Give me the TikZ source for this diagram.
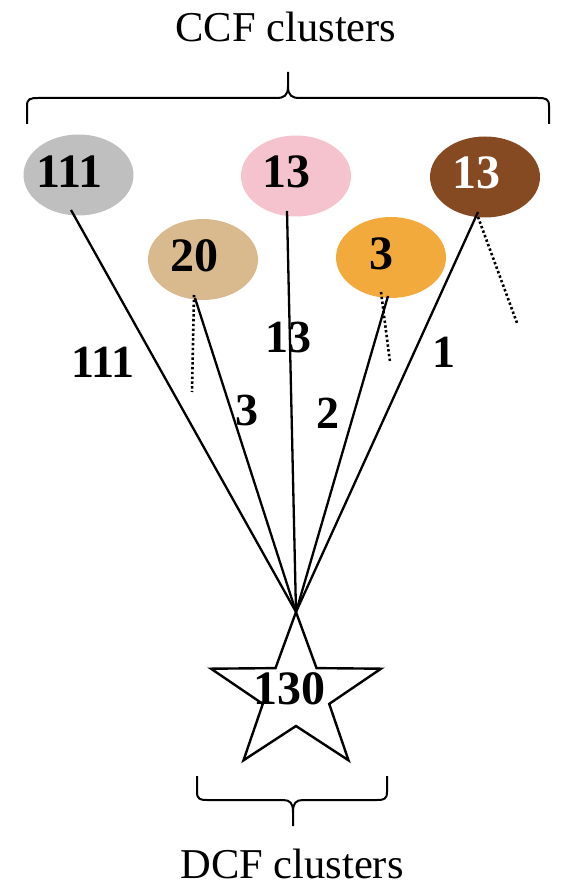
\documentclass[tikz,border=0pt]{standalone}
\usepackage{fontspec}
\setmainfont{Liberation Serif}
\definecolor{cgray}{HTML}{BFBFBF}
\definecolor{cpink}{HTML}{F5C3CD}
\definecolor{cbrown}{HTML}{854A22}
\definecolor{ctan}{HTML}{D9BA8E}
\definecolor{corange}{HTML}{F3AA3C}
\tikzset{
  blob/.style={ellipse, minimum width=110pt, minimum height=81pt, inner sep=0pt},
  num/.style={inner sep=0pt, font=\fontsize{48}{50}\selectfont\bfseries},
  edgelab/.style={inner sep=0pt, font=\fontsize{46}{48}\selectfont\bfseries},
  title/.style={inner sep=0pt, font=\fontsize{42.5}{44}\selectfont},
  link/.style={line width=2.3pt},
  dotline/.style={line width=2.6pt, dash pattern=on 2.4pt off 2.4pt},
  bracepath/.style={line width=2pt},
}
\usetikzlibrary{shapes.geometric}
\begin{document}
\begin{tikzpicture}[x=1pt,y=-1pt]
\useasboundingbox (0,0) rectangle (561,890);
% titles
\node[title] (ccf) at (286,27) {CCF clusters};
\node[title] (dcf) at (292,864) {DCF clusters};
% top brace
\draw[bracepath] (27,124) -- (27,106) .. controls (27,99) and (30,98) .. (38,98) -- (276,98) .. controls (284,98) and (288,96) .. (288,86) -- (288,72);
\draw[bracepath] (288,86) .. controls (288,96) and (292,98) .. (300,98) -- (538,98) .. controls (546,98) and (549,99) .. (549,106) -- (549,124);
% bottom brace
\draw[bracepath] (197,776) -- (197,792) .. controls (197,799) and (200,800) .. (207,800) -- (283,800) .. controls (290,800) and (293,803) .. (293,812) -- (293,826);
\draw[bracepath] (293,812) .. controls (293,803) and (296,800) .. (303,800) -- (377,800) .. controls (384,800) and (387,799) .. (387,792) -- (387,776);
% ellipses
\node[blob, fill=cgray] (egray) at (78.5,175) {};
\node[blob, fill=cpink] (epink) at (296,176) {};
\node[blob, fill=cbrown] (ebrown) at (485,177) {};
\node[blob, fill=ctan] (etan) at (203,259.5) {};
\node[blob, fill=corange] (eorange) at (391,257.5) {};
\node[num] (ngray) at (69.5,172) {111};
\node[num] (npink) at (286,172) {13};
\node[num, text=white] (nbrown) at (476.5,173) {13};
\node[num] (ntan) at (194.5,256) {20};
\node[num] (norange) at (381.5,254) {3};
% star
\coordinate (stop) at (296,612);
\draw[line width=2.4pt, line join=miter] (stop) -- (316.5,668.1) -- (381,668.7) -- (329.2,703.9) -- (348.5,760.3) -- (296,726) -- (243.5,760.3) -- (262.8,703.9) -- (211,668.7) -- (275.5,668.1) -- cycle;
\node[num] (nstar) at (289.5,689) {130};
% link start points
\coordinate (sgray) at (71,210);
\coordinate (spink) at (287,211);
\coordinate (sbrown) at (478,212);
\coordinate (stan) at (195,298);
\coordinate (sorange) at (388,296);
\draw[link] (sgray) -- (stop);
\draw[link] (spink) -- (stop);
\draw[link] (sbrown) -- (stop);
\draw[link] (stan) -- (stop);
\draw[link] (sorange) -- (stop);
% dotted lines
\coordinate (dtan1) at (194,295);
\coordinate (dtan2) at (192,392);
\coordinate (dor1) at (381,292);
\coordinate (dor2) at (390,362);
\coordinate (dbr1) at (478,217);
\coordinate (dbr2) at (517,323);
\draw[dotline] (dtan1) -- (dtan2);
\draw[dotline] (dor1) -- (dor2);
\draw[dotline] (dbr1) -- (dbr2);
% edge labels
\node[edgelab] (l111) at (103,362) {111};
\node[edgelab] (l13) at (288,337) {13};
\node[edgelab] (l3) at (247,410) {3};
\node[edgelab] (l2) at (328,413) {2};
\node[edgelab] (l1) at (444,352) {1};
\end{tikzpicture}
\end{document}
